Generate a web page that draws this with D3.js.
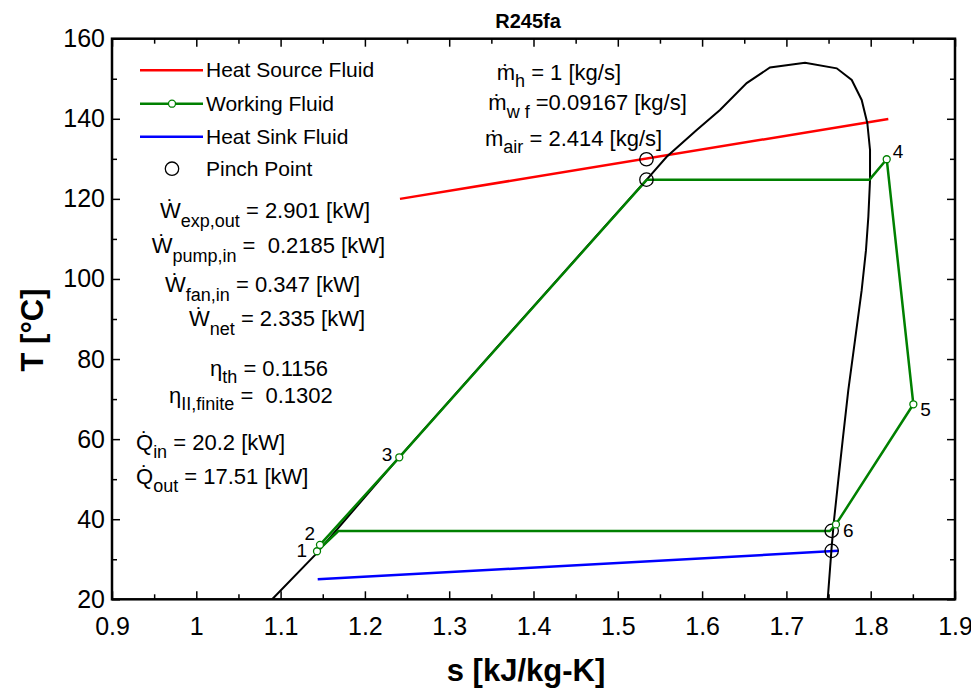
<!DOCTYPE html>
<html>
<head>
<meta charset="utf-8">
<script src="https://cdn.jsdelivr.net/npm/d3@7"></script>
<style>
  body { margin: 0; background: #fff; }
  svg { display: block; }
  text { white-space: pre; }
</style>
</head>
<body>
<script>
// saturation dome of R245fa (liquid line, top, vapour line)
const satS = [1.09, 1.141, 1.2403, 1.34, 1.44, 1.5343, 1.558, 1.5936, 1.6212, 1.6529, 1.6805, 1.7221, 1.7597,
  1.7775, 1.7893, 1.796, 1.7992, 1.7992, 1.7972, 1.7944, 1.7893, 1.7814, 1.7734, 1.7668, 1.7616, 1.7565, 1.7537, 1.749];
const satT = [20, 31.1, 55.4, 79.0, 102.6, 124.8, 130.5, 137.2, 142.2, 148.9, 152.8, 154.0, 152.6,
  149.7, 144.7, 138.9, 132.2, 124.7, 115.5, 107.2, 97.2, 84.7, 72.2, 59.8, 49.8, 39.8, 33.1, 20];

// working fluid cycle 1-2-3-evap-4-5-6-cond-1
const cycleS = [1.1432, 1.1467, 1.2408, 1.5343, 1.7984, 1.819, 1.8506, 1.7588, 1.7516, 1.1685, 1.1432];
const cycleT = [32.0, 33.6, 55.46, 124.75, 124.75, 129.9, 68.7, 38.7, 37.06, 37.06, 32.0];

// numbered states
const stateNames = ["1", "2", "3", "4", "5", "6"];
const stateS = [1.1432, 1.1467, 1.2408, 1.819, 1.8506, 1.7588];
const stateT = [32.0, 33.6, 55.46, 129.9, 68.7, 38.7];

const sourceS = [1.2416, 1.8209];
const sourceT = [120.0, 139.95];
const sinkS = [1.144, 1.7616];
const sinkT = [25.0, 32.1];

const pinchS = [1.534, 1.534, 1.7537, 1.7537];
const pinchT = [129.9, 124.8, 37.1, 32.1];

const xTicks = [0.9, 1, 1.1, 1.2, 1.3, 1.4, 1.5, 1.6, 1.7, 1.8, 1.9];
const yTicks = [20, 40, 60, 80, 100, 120, 140, 160];

const legendNames = ["Heat Source Fluid", "Working Fluid", "Heat Sink Fluid", "Pinch Point"];

const W = 971, H = 688;
const pL = 112, pR = 955, pT = 38.7, pB = 599.3;
const font = "'Liberation Sans', Arial, Helvetica, sans-serif";

const x = d3.scaleLinear().domain([0.9, 1.9]).range([pL, pR]);
const y = d3.scaleLinear().domain([20, 160]).range([pB, pT]);

const svg = d3.select("body").append("svg")
  .attr("width", W).attr("height", H)
  .style("font-family", font);

// title
svg.append("text").attr("x", 528).attr("y", 28)
  .attr("text-anchor", "middle").attr("font-weight", "bold").attr("font-size", 20)
  .text("R245fa");

// axes, ticks inward on all four sides
const xMinor = d3.range(0.95, 1.9, 0.1);
const yMinor = d3.range(30, 160, 20);

function styleAxis(g) {
  g.select(".domain").remove();
  g.selectAll("line").attr("stroke", "#000").attr("stroke-width", 1.5);
  g.selectAll("text").attr("font-family", font).attr("font-size", 25).attr("fill", "#000");
}

svg.append("g").attr("transform", `translate(0,${pB})`)
  .call(d3.axisBottom(x).tickValues(xTicks).tickFormat(d => d).tickSizeInner(-8).tickSizeOuter(0).tickPadding(18))
  .call(styleAxis);
svg.append("g").attr("transform", `translate(0,${pB})`)
  .call(d3.axisBottom(x).tickValues(xMinor).tickFormat("").tickSizeInner(-5).tickSizeOuter(0))
  .call(styleAxis);
svg.append("g").attr("transform", `translate(0,${pT})`)
  .call(d3.axisTop(x).tickValues(xTicks).tickFormat("").tickSizeInner(-8).tickSizeOuter(0))
  .call(styleAxis);
svg.append("g").attr("transform", `translate(0,${pT})`)
  .call(d3.axisTop(x).tickValues(xMinor).tickFormat("").tickSizeInner(-5).tickSizeOuter(0))
  .call(styleAxis);

svg.append("g").attr("transform", `translate(${pL},0)`)
  .call(d3.axisLeft(y).tickValues(yTicks).tickFormat(d => d).tickSizeInner(-8).tickSizeOuter(0).tickPadding(7))
  .call(styleAxis);
svg.append("g").attr("transform", `translate(${pL},0)`)
  .call(d3.axisLeft(y).tickValues(yMinor).tickFormat("").tickSizeInner(-5).tickSizeOuter(0))
  .call(styleAxis);
svg.append("g").attr("transform", `translate(${pR},0)`)
  .call(d3.axisRight(y).tickValues(yTicks).tickFormat("").tickSizeInner(-8).tickSizeOuter(0))
  .call(styleAxis);
svg.append("g").attr("transform", `translate(${pR},0)`)
  .call(d3.axisRight(y).tickValues(yMinor).tickFormat("").tickSizeInner(-5).tickSizeOuter(0))
  .call(styleAxis);

svg.append("rect")
  .attr("x", pL).attr("y", pT).attr("width", pR - pL).attr("height", pB - pT)
  .attr("fill", "none").attr("stroke", "#000").attr("stroke-width", 2.5);

// axis titles
svg.append("text").attr("x", 526).attr("y", 681)
  .attr("text-anchor", "middle").attr("font-weight", "bold").attr("font-size", 31)
  .text("s [kJ/kg-K]");
svg.append("text").attr("transform", "translate(43,330) rotate(-90)")
  .attr("text-anchor", "middle").attr("font-weight", "bold").attr("font-size", 31)
  .text("T [°C]");

const line = d3.line().x(d => x(d[0])).y(d => y(d[1]));
const zip = (a, b) => a.map((v, i) => [v, b[i]]);

const plot = svg.append("g");

plot.append("path").datum(zip(sourceS, sourceT)).attr("d", line)
  .attr("fill", "none").attr("stroke", "#ff0000").attr("stroke-width", 2.5);
plot.append("path").datum(zip(sinkS, sinkT)).attr("d", line)
  .attr("fill", "none").attr("stroke", "#0000ff").attr("stroke-width", 2.5);
plot.append("path").datum(zip(satS, satT)).attr("d", line)
  .attr("fill", "none").attr("stroke", "#000").attr("stroke-width", 2);
plot.append("path").datum(zip(cycleS, cycleT)).attr("d", line)
  .attr("fill", "none").attr("stroke", "#008000").attr("stroke-width", 2.5)
  .attr("stroke-linejoin", "round");

plot.selectAll(".pinch").data(zip(pinchS, pinchT)).enter().append("circle")
  .attr("class", "pinch")
  .attr("cx", d => x(d[0])).attr("cy", d => y(d[1])).attr("r", 6.7)
  .attr("fill", "none").attr("stroke", "#000").attr("stroke-width", 1.3);

plot.selectAll(".state").data(zip(stateS, stateT)).enter().append("circle")
  .attr("class", "state")
  .attr("cx", d => x(d[0])).attr("cy", d => y(d[1])).attr("r", 3.5)
  .attr("fill", "#fff").attr("stroke", "#008000").attr("stroke-width", 1.3);

// label offsets (px) for state numbers
const labelOff = [[-10, 6, "end"], [-5, -5, "end"], [-7, 4, "end"], [6, -1, "start"], [7, 12, "start"], [7, 13, "start"]];
plot.selectAll(".stateLabel").data(stateNames).enter().append("text")
  .attr("class", "stateLabel")
  .attr("x", (d, i) => x(stateS[i]) + labelOff[i][0])
  .attr("y", (d, i) => y(stateT[i]) + labelOff[i][1])
  .attr("text-anchor", (d, i) => labelOff[i][2])
  .attr("font-size", 19)
  .text(d => d);

// legend
const legend = svg.append("g");
const legendY = [70.3, 103.7, 136.7, 168.7];
const legendColor = ["#ff0000", "#008000", "#0000ff", null];
legendNames.forEach((name, i) => {
  if (legendColor[i]) {
    legend.append("line").attr("x1", 140).attr("x2", 203).attr("y1", legendY[i]).attr("y2", legendY[i])
      .attr("stroke", legendColor[i]).attr("stroke-width", 2.5);
  }
  if (i === 1) {
    legend.append("circle").attr("cx", 172).attr("cy", legendY[i]).attr("r", 3.5)
      .attr("fill", "#fff").attr("stroke", "#008000").attr("stroke-width", 1.3);
  }
  if (i === 3) {
    legend.append("circle").attr("cx", 172).attr("cy", legendY[i]).attr("r", 6.7)
      .attr("fill", "none").attr("stroke", "#000").attr("stroke-width", 1.3);
  }
  legend.append("text").attr("x", 206).attr("y", legendY[i] + 7)
    .attr("font-size", 21).text(name);
});

// annotation text: symbol, optional dot accent over it, subscript, rest
function note(px, py, main, sub, rest, dotDy, subDy) {
  const t = svg.append("text").attr("x", px).attr("y", py).attr("font-size", 22);
  const m = t.append("tspan").text(main);
  const w = m.node().getComputedTextLength();
  let back = 0, up = 0;
  if (dotDy !== null) {
    const d = t.append("tspan").text("\u02D9");
    const dw = d.node().getComputedTextLength();
    d.attr("dx", -(w + dw) / 2).attr("dy", dotDy);
    back = (w - dw) / 2;
    up = dotDy;
  }
  t.append("tspan").attr("font-size", 18).attr("dx", back).attr("dy", subDy - up).text(sub);
  t.append("tspan").attr("dy", -subDy).text(rest);
}

note(496.7, 80, "m", "h", " = 1 [kg/s]", 0, 7);
note(488.3, 110, "m", "w f", " =0.09167 [kg/s]", 0, 8);
note(485, 146, "m", "air", " = 2.414 [kg/s]", 0, 7);

note(160, 218, "W", "exp,out", " = 2.901 [kW]", -3, 9);
note(151.7, 253, "W", "pump,in", " =  0.2185 [kW]", -3, 9);
note(165, 292, "W", "fan,in", " = 0.347 [kW]", -3, 9);
note(189, 326, "W", "net", " = 2.335 [kW]", -3, 9);

note(210, 376, "η", "th", " = 0.1156", null, 7);
note(169, 403, "η", "II,finite", " =  0.1302", null, 7);

note(136, 450, "Q", "in", " = 20.2 [kW]", -3, 8);
note(136, 484, "Q", "out", " = 17.51 [kW]", -3, 8);
</script>
</body>
</html>
